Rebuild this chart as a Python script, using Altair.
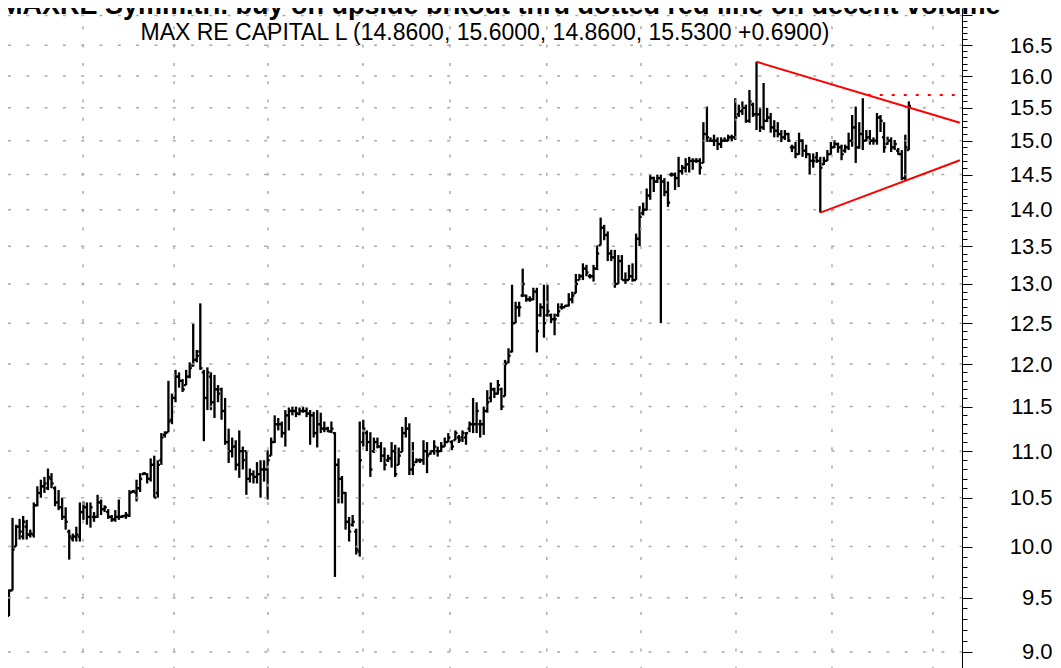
import altair as alt
import pandas as pd

# ---------------- data, one value per daily bar ----------------
opens = [
    9.33, 9.57, 10.00, 10.20, 10.10, 10.20, 10.12, 10.12, 10.42, 10.55,
    10.62, 10.60, 10.70, 10.60, 10.45, 10.40, 10.30, 10.15, 10.08, 10.10,
    10.10, 10.35, 10.40, 10.30, 10.30, 10.30, 10.45, 10.38, 10.35, 10.30,
    10.28, 10.30, 10.30, 10.31, 10.31, 10.56, 10.55, 10.60, 10.75, 10.75,
    10.70, 10.85, 10.55, 10.90, 11.18, 11.21, 11.35, 11.60, 11.85, 11.80,
    11.75, 11.85, 11.98, 12.05, 12.15, 11.90, 11.60, 11.85, 11.55, 11.70,
    11.70, 11.45, 11.10, 11.00, 11.05, 10.85, 11.00, 11.00, 10.70, 10.75,
    10.72, 10.75, 10.80, 10.80, 10.95, 11.10, 11.30, 11.30, 11.20, 11.40,
    11.45, 11.45, 11.42, 11.45, 11.45, 11.42, 11.40, 11.20, 11.30, 11.25,
    11.25, 11.22, 11.20, 10.85, 10.70, 10.55, 10.25, 10.22, 10.15, 9.95,
    11.10, 11.20, 11.10, 11.00, 11.10, 11.05, 10.95, 10.90, 10.92,
    11.00, 10.85, 10.99, 11.20, 11.25, 10.80, 10.88, 10.90, 10.90, 11.00,
    10.97, 11.00, 11.00, 11.00, 11.05, 11.10, 11.10, 11.12, 11.15, 11.15,
    11.15, 11.25, 11.30, 11.30, 11.30, 11.30, 11.45, 11.60, 11.70, 11.65,
    11.70, 11.62, 12.02, 12.15, 12.50, 12.70, 12.85, 12.85, 12.80, 12.80,
    12.90, 12.60, 12.70, 12.60, 12.60, 12.55, 12.60, 12.70, 12.70, 12.72,
    12.80, 12.88, 13.05, 13.10, 13.20, 13.10, 13.10, 13.20, 13.51, 13.75,
    13.65, 13.40, 13.35, 13.00, 13.30, 13.05,
    13.05, 13.10, 13.05, 13.60, 13.95,
    14.00, 14.20, 14.45, 14.40, 14.45, 14.40, 14.25, 14.50, 14.50, 14.45,
    14.55, 14.60, 14.65, 14.70, 14.70, 14.70, 14.67, 15.10, 15.00, 15.00,
    15.00, 14.95, 15.00, 15.00, 15.05, 15.05, 15.40, 15.45, 15.50, 15.30,
    15.55, 15.40, 15.40, 15.20, 15.30, 15.35, 15.20, 15.15, 15.10,
    15.05, 15.10, 14.90, 14.90, 14.80, 15.00, 14.85, 14.80, 14.70, 14.75,
    14.70, 14.65, 14.70, 14.80, 14.90, 14.95, 14.90, 14.85, 14.90, 15.00,
    15.20, 14.90, 15.10, 15.00, 15.05, 15.00, 15.00, 15.35, 15.05, 14.95,
    15.00, 14.90, 14.85, 14.80, 14.45, 14.86]
highs = [
    9.58, 10.29, 10.22, 10.28, 10.31, 10.27, 10.17, 10.45, 10.62, 10.69,
    10.72, 10.81, 10.76, 10.62, 10.58, 10.50, 10.40, 10.17, 10.13, 10.20,
    10.45, 10.46, 10.45, 10.45, 10.35, 10.53, 10.48, 10.42, 10.38, 10.32,
    10.37, 10.48, 10.32, 10.35, 10.58, 10.58, 10.69, 10.76, 10.77, 10.76,
    10.92, 10.95, 10.90, 11.20, 11.22, 11.80, 11.65, 11.93, 11.90, 11.82,
    11.93, 12.02, 12.50, 12.17, 12.75, 11.93, 11.96, 11.90, 11.87, 11.75,
    11.72, 11.60, 11.25, 11.15, 11.12, 11.23, 11.05, 11.00, 10.81, 10.79,
    10.88, 10.90, 10.90, 11.01, 11.15, 11.40, 11.37, 11.33, 11.46, 11.49,
    11.50, 11.50, 11.49, 11.50, 11.49, 11.46, 11.44, 11.46, 11.43, 11.33,
    11.27, 11.33, 11.21, 10.92, 10.73, 10.56, 10.30, 10.32, 10.18, 11.33,
    11.35, 11.23, 11.21, 11.15, 11.15, 11.10, 11.04, 10.96, 11.10,
    11.07, 11.04, 11.27, 11.38, 11.31, 11.10, 10.92, 10.92, 11.12, 11.10,
    11.01, 11.12, 11.05, 11.10, 11.15, 11.20, 11.12, 11.23, 11.18, 11.23,
    11.21, 11.33, 11.60, 11.55, 11.35, 11.50, 11.69, 11.78, 11.72, 11.81,
    11.72, 12.05, 12.19, 12.99, 12.77, 12.77, 13.20, 12.86, 12.84, 12.95,
    12.95, 12.75, 12.99, 12.99, 12.62, 12.62, 12.75, 12.75, 12.73, 12.88,
    12.90, 13.13, 13.13, 13.27, 13.25, 13.13, 13.25, 13.51, 13.89, 13.79,
    13.70, 13.45, 13.45, 13.38, 13.38, 13.15,
    13.25, 13.27, 13.67, 14.05, 14.10,
    14.30, 14.50, 14.47, 14.50, 14.50, 14.45, 14.40, 14.53, 14.53, 14.76,
    14.64, 14.74, 14.76, 14.74, 14.74, 14.74, 15.28, 15.52, 15.05, 15.09,
    15.05, 15.05, 15.05, 15.09, 15.09, 15.65, 15.55, 15.60, 15.55, 15.78,
    15.58, 16.23, 15.50, 15.89, 15.50, 15.42, 15.31, 15.28, 15.16,
    15.16, 15.12, 14.94, 14.98, 15.12, 15.02, 14.94, 14.81, 14.81, 14.83,
    14.76, 14.76, 14.86, 14.98, 15.01, 14.97, 14.94, 14.94, 15.12, 15.39,
    15.52, 15.28, 15.65, 15.16, 15.16, 15.05, 15.42, 15.39, 15.28, 15.06,
    15.05, 15.01, 14.89, 14.86, 15.09, 15.60]
lows = [
    9.33, 9.57, 10.00, 10.07, 10.07, 10.07, 10.09, 10.09, 10.41, 10.50,
    10.55, 10.58, 10.60, 10.41, 10.37, 10.27, 10.17, 9.87, 10.05, 10.05,
    10.05, 10.27, 10.22, 10.19, 10.25, 10.29, 10.32, 10.35, 10.28, 10.25,
    10.25, 10.27, 10.29, 10.28, 10.30, 10.55, 10.46, 10.56, 10.74, 10.65,
    10.67, 10.50, 10.50, 10.85, 11.15, 11.21, 11.30, 11.55, 11.72, 11.67,
    11.75, 11.83, 11.97, 12.02, 11.93, 11.11, 11.46, 11.46, 11.37, 11.55,
    11.35, 11.07, 10.87, 10.93, 10.79, 10.71, 10.80, 10.53, 10.66, 10.65,
    10.65, 10.50, 10.67, 10.48, 10.95, 11.09, 11.23, 11.15, 11.05, 11.23,
    11.40, 11.38, 11.40, 11.43, 11.38, 11.07, 11.15, 11.04, 11.20, 11.21,
    11.21, 11.20, 9.70, 10.44, 10.44, 10.17, 10.05, 10.20, 9.92, 9.90,
    11.05, 11.00, 10.72, 10.98, 11.03, 10.88, 10.79, 10.88, 10.82,
    10.72, 10.85, 10.99, 11.15, 10.74, 10.74, 10.87, 10.87, 10.85, 10.76,
    10.96, 10.96, 10.94, 10.99, 11.05, 11.10, 11.01, 11.12, 11.09, 11.10,
    11.07, 11.21, 11.20, 11.20, 11.15, 11.18, 11.43, 11.55, 11.60, 11.64,
    11.46, 11.62, 12.01, 12.14, 12.50, 12.58, 12.83, 12.77, 12.77, 12.79,
    12.14, 12.58, 12.32, 12.58, 12.50, 12.35, 12.58, 12.67, 12.70, 12.71,
    12.75, 12.88, 13.05, 13.05, 13.10, 13.07, 13.03, 13.18, 13.51, 13.58,
    13.30, 13.30, 12.95, 13.00, 13.05, 13.00,
    13.05, 13.03, 13.05, 13.50, 13.92,
    13.99, 14.14, 14.25, 14.38, 12.50, 14.19, 14.04, 14.47, 14.28, 14.32,
    14.50, 14.53, 14.53, 14.57, 14.67, 14.50, 14.67, 14.98, 14.98, 14.92,
    14.86, 14.89, 14.98, 14.99, 14.99, 15.01, 15.36, 15.39, 15.27, 15.27,
    15.36, 15.16, 15.13, 15.16, 15.28, 15.12, 15.05, 15.05, 14.98,
    15.01, 14.98, 14.83, 14.74, 14.79, 14.76, 14.74, 14.50, 14.60, 14.67,
    13.96, 14.64, 14.70, 14.79, 14.89, 14.82, 14.71, 14.82, 14.86, 14.91,
    14.67, 14.88, 14.86, 14.99, 14.94, 14.94, 14.94, 15.13, 14.82, 14.94,
    14.83, 14.86, 14.79, 14.42, 14.42, 14.86]
closes = [
    9.57, 9.97, 10.20, 10.15, 10.25, 10.12, 10.13, 10.42, 10.55, 10.62,
    10.65, 10.72, 10.65, 10.45, 10.40, 10.30, 10.25, 10.10, 10.10, 10.12,
    10.35, 10.40, 10.30, 10.40, 10.30, 10.45, 10.38, 10.40, 10.30, 10.27,
    10.30, 10.30, 10.31, 10.32, 10.55, 10.57, 10.60, 10.70, 10.76, 10.70,
    10.85, 10.50, 10.85, 11.15, 11.20, 11.33, 11.60, 11.85, 11.80, 11.70,
    11.85, 11.95, 12.05, 12.10, 11.95, 11.60, 11.90, 11.55, 11.70, 11.65,
    11.45, 11.10, 11.00, 11.05, 10.85, 11.00, 10.90, 10.70, 10.75, 10.72,
    10.75, 10.80, 10.80, 10.90, 11.10, 11.30, 11.30, 11.20, 11.40, 11.45,
    11.45, 11.42, 11.45, 11.45, 11.42, 11.40, 11.20, 11.30, 11.25, 11.25,
    11.22, 11.25, 10.85, 10.70, 10.55, 10.25, 10.15, 10.25, 9.97, 10.90,
    11.25, 11.10, 10.80, 11.10, 11.05, 10.95, 10.85, 10.92, 11.00,
    10.75, 10.95, 11.20, 11.25, 10.80, 10.85, 10.90, 10.90, 11.00, 10.95,
    11.00, 11.05, 11.00, 11.05, 11.10, 11.15, 11.05, 11.20, 11.12, 11.20,
    11.20, 11.30, 11.30, 11.45, 11.30, 11.45, 11.55, 11.70, 11.65, 11.75,
    11.50, 12.00, 12.10, 12.50, 12.70, 12.70, 13.00, 12.80, 12.80, 12.90,
    12.40, 12.70, 12.50, 12.65, 12.55, 12.55, 12.65, 12.70, 12.72, 12.80,
    12.85, 13.00, 13.10, 13.20, 13.15, 13.10, 13.20, 13.40, 13.75, 13.65,
    13.40, 13.35, 13.00, 13.30, 13.05, 13.05,
    13.10, 13.05, 13.60, 13.90, 14.00,
    14.20, 14.45, 14.40, 14.45, 14.40, 14.25, 14.10, 14.50, 14.45, 14.55,
    14.60, 14.65, 14.70, 14.70, 14.70, 14.60, 15.10, 15.05, 15.00, 15.00,
    14.95, 15.00, 15.00, 15.05, 15.05, 15.35, 15.45, 15.50, 15.30, 15.60,
    15.40, 15.40, 15.20, 15.30, 15.35, 15.20, 15.15, 15.10, 15.05,
    15.10, 15.00, 14.90, 14.80, 15.00, 14.85, 14.80, 14.70, 14.70, 14.70,
    14.60, 14.70, 14.80, 14.90, 14.95, 14.90, 14.80, 14.90, 15.00, 15.20,
    14.90, 15.10, 15.00, 15.05, 15.00, 15.00, 15.35, 15.30, 14.90, 15.00,
    14.90, 14.95, 14.80, 14.45, 14.90, 15.53]

title_text = "MAXRE Symm.tri. buy on upside brkout thru dotted red line on decent volume"
subtitle_text = "MAX RE CAPITAL L (14.8600, 15.6000, 14.8600, 15.5300 +0.6900)"

grid_prices = [9.0 + 0.5 * k for k in range(17)]           # 9.0 .. 17.0
axis_prices = [round(9.0 + 0.1 * k, 1) for k in range(81)]  # ticks every 0.1
month_bars = [20.9, 46.6, 73.1, 99.9, 124.5, 151.8, 178.4, 205.2, 232.3, 260.8]

upper_i = [211, 268.4]
upper_p = [16.23, 15.27]
lower_i = [229, 268.4]
lower_p = [13.96, 14.71]
brk_i = [242.4, 268.4]
brk_p = [15.70, 15.70]

# ---------------- chart ----------------
W, H = 954, 660
xs = alt.Scale(domain=[-0.28, 269.0], nice=False, zero=False)
ys = alt.Scale(type="log", domain=[8.857, 17.126], nice=False, zero=False)

n = min(len(opens), len(highs), len(lows), len(closes))
bars = pd.DataFrame({"i": list(range(n)), "open": opens[:n], "high": highs[:n],
                     "low": lows[:n], "close": closes[:n]})

major_test = "abs(datum.value * 2 - round(datum.value * 2)) < 0.001"
y_axis = alt.Axis(
    orient="right", values=axis_prices, title=None, grid=False,
    labelExpr=f"({major_test}) && datum.value < 16.9 ? format(datum.value, '.1f') : ''",
    tickSize={"condition": {"test": major_test, "value": 10}, "value": 5},
    tickColor="black", tickWidth=1, domainColor="black", domainWidth=1,
    labelFont="Liberation Sans", labelFontSize=22, labelColor="black",
    labelAlign="right", labelBaseline="middle", labelPadding=80,
    labelOverlap=False, labelBound=False, labelFlush=False,
)


def Y(field):
    return alt.Y(field, scale=ys, axis=y_axis)


def X(field):
    return alt.X(field, scale=xs, axis=None)


hgrid = alt.Chart(pd.DataFrame({"p": grid_prices})).mark_rule(
    color="#aaaaaa", strokeWidth=1.5, strokeDash=[3, 15.3]
).encode(y=Y("p:Q"), x=alt.value(0), x2=alt.value(W))

vgrid = alt.Chart(pd.DataFrame({"m": month_bars})).mark_rule(
    color="#aaaaaa", strokeWidth=1.5, strokeDash=[3, 15.3]
).encode(x=X("m:Q"), y=alt.value(0), y2=alt.value(H))

BW = 2.3
hl = alt.Chart(bars).mark_rule(color="black", strokeWidth=BW).encode(
    x=X("i:Q"), y=Y("low:Q"), y2="high:Q",
)
open_tick = alt.Chart(bars).transform_calculate(xl="datum.i - 0.6").mark_rule(
    color="black", strokeWidth=BW
).encode(x=X("xl:Q"), x2="i:Q", y=Y("open:Q"))
close_tick = alt.Chart(bars).transform_calculate(xr="datum.i + 0.6").mark_rule(
    color="black", strokeWidth=BW
).encode(x=X("i:Q"), x2="xr:Q", y=Y("close:Q"))


def red_line(ii, pp, dash=None):
    kw = dict(color="#ff0000", strokeWidth=2)
    if dash:
        kw["strokeDash"] = dash
    return alt.Chart(pd.DataFrame({"i": ii, "p": pp})).mark_line(**kw).encode(
        x=X("i:Q"), y=Y("p:Q"))


upper = red_line(upper_i, upper_p)
lower = red_line(lower_i, lower_p)
brk = red_line(brk_i, brk_p, dash=[3, 9])

title = alt.Chart(pd.DataFrame({"t": [title_text]})).mark_text(
    align="left", baseline="alphabetic", font="Liberation Sans", fontSize=27,
    fontWeight="bold", color="black"
).encode(x=alt.value(-8), y=alt.value(6), text="t:N")

subtitle = alt.Chart(pd.DataFrame({"t": [subtitle_text]})).mark_text(
    align="center", baseline="middle", font="Liberation Sans", fontSize=23,
    color="black"
).encode(x=alt.value(477), y=alt.value(24.5), text="t:N")

chart = alt.layer(
    hl, hgrid, vgrid, open_tick, close_tick, upper, lower, brk, title, subtitle
).properties(
    width=W, height=H,
    autosize=alt.AutoSizeParams(type="none"),
    padding={"left": 0, "top": 0, "right": 91, "bottom": 0},
    background="white",
).configure_view(stroke=None)

chart.save("out.html", embed_options={"renderer": "svg", "actions": False})
